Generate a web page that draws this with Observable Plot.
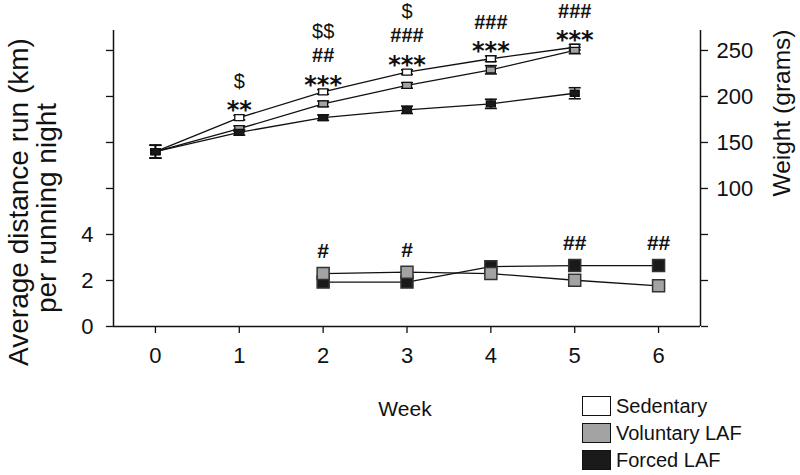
<!DOCTYPE html>
<html><head><meta charset="utf-8">
<script src="https://cdn.jsdelivr.net/npm/d3@7"></script>
<script src="https://cdn.jsdelivr.net/npm/@observablehq/plot@0.6"></script>
<style>
body{margin:0;background:#fff;font-family:"Liberation Sans",Arial,sans-serif;color:#111;}
#wrap{position:relative;width:800px;height:475px;overflow:hidden;}
.rot{position:absolute;white-space:nowrap;transform:translate(-50%,-50%) rotate(-90deg);line-height:1;}
.lbl{position:absolute;white-space:nowrap;transform:translate(-50%,-50%);line-height:1;}
.leg{position:absolute;left:582px;font-size:20px;line-height:1;}
.leg .row{position:absolute;left:0;display:flex;align-items:center;height:20px;white-space:nowrap;}
.leg .box{width:27px;height:18px;border:1.5px solid #111;margin-right:5px;box-sizing:content-box;}
</style></head><body><div id="wrap"></div>
<script>
// ---- data ----
const weeks = [0, 1, 2, 3, 4, 5];
const sedentaryWeight = [140, 177, 205, 226.5, 241, 253.5];
const voluntaryWeight = [140, 165, 192, 212, 229, 250];
const forcedWeight = [140, 161, 177, 185.5, 192, 203.5];
const sedentaryErr = [7, 2.5, 2.5, 2.5, 3, 3];
const voluntaryErr = [7, 3, 3, 3, 4.5, 3.5];
const forcedErr = [7, 3, 3, 4, 5, 6];

const runWeeks = [2, 3, 4, 5, 6];
const voluntaryRun = [2.30, 2.36, 2.30, 2.01, 1.77];
const forcedRun = [1.93, 1.93, 2.60, 2.65, 2.65];

// significance markers (weight panel), per week
const sigStars = ["", "**", "***", "***", "***", "***"];
const sigHash = ["", "", "##", "###", "###", "###"];
const sigDollar = ["", "$", "$$", "$", "", ""];
// significance markers (running panel)
const runSig = ["#", "#", "", "##", "##"];

// shared vertical axis (grams); running km mapped onto it
const tickGrams = [-50, 0, 50, 100, 150, 200, 250];
const leftTickLabels = ["0", "2", "4", "", "", "", ""];
const rightTickLabels = ["", "", "", "100", "150", "200", "250"];
const xTicks = [0, 1, 2, 3, 4, 5, 6];
const kmToGrams = km => km * 25 - 50;

const groups = ["Sedentary", "Voluntary LAF", "Forced LAF"];
const groupFill = ["#ffffff", "#a3a3a3", "#1a1a1a"];

// ---- tables ----
const weightSets = [sedentaryWeight, voluntaryWeight, forcedWeight];
const errSets = [sedentaryErr, voluntaryErr, forcedErr];
const weight = [];
groups.forEach((g, gi) => weeks.forEach((w, i) => weight.push({
  group: g, gi, week: w, value: weightSets[gi][i], lo: weightSets[gi][i] - errSets[gi][i], hi: weightSets[gi][i] + errSets[gi][i]
})));
const run = [];
[["Voluntary LAF", voluntaryRun, 1], ["Forced LAF", forcedRun, 2]].forEach(([g, arr, gi]) =>
  runWeeks.forEach((w, i) => run.push({group: g, gi, week: w, value: kmToGrams(arr[i])})));

const annot = [];
weeks.forEach((w, i) => {
  const top = Math.max(sedentaryWeight[i], voluntaryWeight[i], forcedWeight[i]);
  let row = 0;
  [["star", sigStars[i]], ["hash", sigHash[i]], ["dollar", sigDollar[i]]].forEach(([kind, t]) => {
    if (t) { annot.push({week: w, y: top, text: t, kind, row}); row++; }
  });
});
const runAnnot = runWeeks.map((w, i) => ({week: w, y: kmToGrams(Math.max(voluntaryRun[i], forcedRun[i])), text: runSig[i]})).filter(d => d.text);

const rectSym = {draw(ctx) { ctx.rect(-4.5, -3, 9, 6); }};
const capSym = {draw(ctx) { ctx.moveTo(-6, 0); ctx.lineTo(6, 0); }};
const sqSym = {draw(ctx) { ctx.rect(-6, -6, 12, 12); }};

const rowDy = [-14, -36, -60];
const kindStyle = {
  star: {fontFamily: "DejaVu Sans", fontWeight: "bold", fontSize: 24, extra: 7},
  hash: {fontFamily: "Liberation Sans", fontWeight: "bold", fontSize: 20, extra: 0},
  dollar: {fontFamily: "Liberation Sans", fontWeight: "normal", fontSize: 20, extra: 0}
};
const annotMarks = [];
[0, 1, 2].forEach(r => Object.keys(kindStyle).forEach(k => {
  const sub = annot.filter(d => d.row === r && d.kind === k);
  if (!sub.length) return;
  const s = kindStyle[k];
  annotMarks.push(Plot.text(sub, {x: "week", y: "y", text: "text", dy: rowDy[r] + s.extra,
    fontFamily: s.fontFamily, fontWeight: s.fontWeight, fontSize: s.fontSize, fill: "#111", lineAnchor: "middle"}));
}));

const chart = Plot.plot({
  width: 800, height: 475,
  marginLeft: 113, marginRight: 100, marginTop: 30, marginBottom: 149,
  style: {fontFamily: "Liberation Sans, Arial, sans-serif", fontSize: "22px", color: "#111", background: "#fff"},
  x: {domain: [-0.5, 6.5]},
  y: {domain: [-50, 271.7]},
  marks: [
    Plot.axisY({anchor: "left", ticks: tickGrams, tickSize: 7, tickPadding: 13, fontSize: 22, label: null,
      tickFormat: v => leftTickLabels[tickGrams.indexOf(v)], strokeWidth: 1.3}),
    Plot.axisY({anchor: "right", ticks: tickGrams, tickSize: 7, tickPadding: 9, fontSize: 22, label: null,
      tickFormat: v => rightTickLabels[tickGrams.indexOf(v)], strokeWidth: 1.3}),
    Plot.axisX({anchor: "bottom", ticks: xTicks, tickSize: 7, tickPadding: 14, fontSize: 22, label: null, tickFormat: d => String(d), strokeWidth: 1.3}),
    Plot.ruleX([-0.5], {stroke: "#111", strokeWidth: 1.5}),
    Plot.ruleX([6.5], {stroke: "#111", strokeWidth: 1.5}),
    Plot.ruleY([-50], {stroke: "#111", strokeWidth: 1.5}),
    // weight lines
    Plot.line(weight, {x: "week", y: "value", z: "group", stroke: "#111", strokeWidth: 1.3}),
    Plot.ruleX(weight, {x: "week", y1: "lo", y2: "hi", stroke: "#111", strokeWidth: 1.5}),
    Plot.dot(weight, {x: "week", y: "lo", symbol: capSym, stroke: "#111", strokeWidth: 1.6}),
    Plot.dot(weight, {x: "week", y: "hi", symbol: capSym, stroke: "#111", strokeWidth: 1.6}),
    Plot.dot(weight, {x: "week", y: "value", symbol: rectSym, fill: d => groupFill[d.gi], stroke: "#111", strokeWidth: 1.3}),
    // running lines
    Plot.line(run, {x: "week", y: "value", z: "group", stroke: "#111", strokeWidth: 1.3}),
    Plot.dot(run.filter(d => d.gi === 2), {x: "week", y: "value", symbol: sqSym, fill: d => groupFill[d.gi], stroke: "#333", strokeWidth: 1.5}),
    Plot.dot(run.filter(d => d.gi === 1), {x: "week", y: "value", symbol: sqSym, fill: d => groupFill[d.gi], stroke: "#333", strokeWidth: 1.5}),
    ...annotMarks,
    Plot.text(runAnnot, {x: "week", y: "y", text: "text", dy: -22, fontFamily: "Liberation Sans", fontWeight: "bold", fontSize: 21, fill: "#111", lineAnchor: "middle"})
  ]
});

const wrap = document.getElementById("wrap");
wrap.appendChild(chart);
chart.style.position = "absolute"; chart.style.left = "0"; chart.style.top = "0";

function addDiv(cls, text, style) {
  const d = document.createElement("div");
  d.className = cls; d.textContent = text;
  Object.assign(d.style, style);
  wrap.appendChild(d);
  return d;
}
addDiv("rot", "Average distance run (km)", {left: "19px", top: "202px", fontSize: "28px"});
addDiv("rot", "per running night", {left: "47px", top: "208px", fontSize: "28px"});
addDiv("rot", "Weight (grams)", {left: "782px", top: "113px", fontSize: "24.5px"});
addDiv("lbl", "Week", {left: "405px", top: "408px", fontSize: "21px"});

const leg = document.createElement("div");
leg.className = "leg";
leg.style.top = "0px";
wrap.appendChild(leg);
const rowTops = [396, 423, 450];
groups.forEach((g, i) => {
  const r = document.createElement("div");
  r.className = "row";
  r.style.top = rowTops[i] + "px";
  const b = document.createElement("div");
  b.className = "box"; b.style.background = groupFill[i];
  const t = document.createElement("span"); t.textContent = g;
  r.appendChild(b); r.appendChild(t); leg.appendChild(r);
});
</script></body></html>
